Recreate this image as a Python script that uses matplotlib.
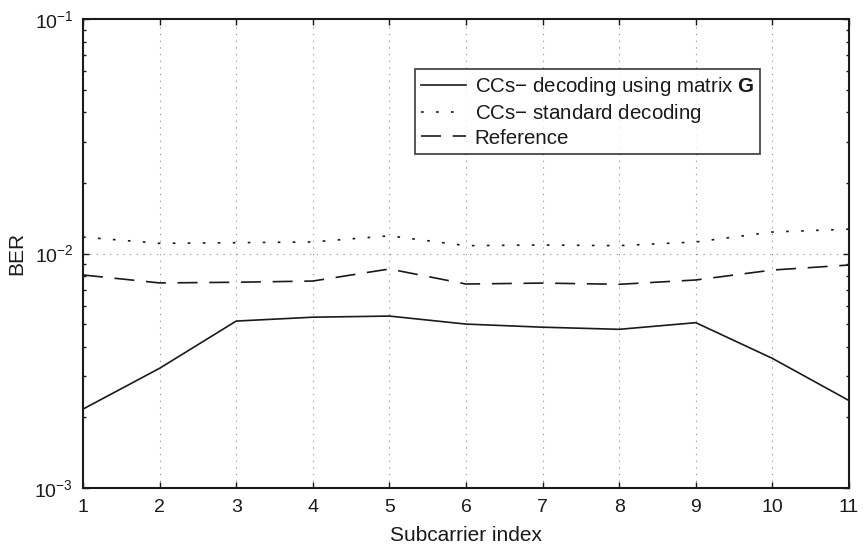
import matplotlib
matplotlib.use("Agg")
import matplotlib.pyplot as plt
from matplotlib.ticker import LogLocator, NullFormatter

plt.rcParams['font.family'] = ['Liberation Sans', 'DejaVu Sans']
plt.rcParams['mathtext.fontset'] = 'custom'
plt.rcParams['mathtext.rm'] = 'Liberation Sans'
plt.rcParams['mathtext.bf'] = 'Liberation Sans:bold'
plt.rcParams['mathtext.it'] = 'Liberation Sans:italic'

subcarriers = [1, 2, 3, 4, 5, 6, 7, 8, 9, 10, 11]
ber_matrix_g = [2.17e-3, 3.24e-3, 5.15e-3, 5.35e-3, 5.41e-3, 5.0e-3, 4.85e-3, 4.75e-3, 5.07e-3, 3.57e-3, 2.36e-3]
ber_standard = [1.175e-2, 1.105e-2, 1.112e-2, 1.12e-2, 1.19e-2, 1.08e-2, 1.087e-2, 1.08e-2, 1.12e-2, 1.235e-2, 1.27e-2]
ber_reference = [8.1e-3, 7.49e-3, 7.54e-3, 7.63e-3, 8.59e-3, 7.41e-3, 7.48e-3, 7.39e-3, 7.71e-3, 8.5e-3, 8.93e-3]
labels = [r"CCs$-$ decoding using matrix $\mathbf{G}$", r"CCs$-$ standard decoding", "Reference"]

fig = plt.figure(figsize=(8.64, 5.51), dpi=100)
ax = fig.add_axes([83/864, 1-488/551, (849-83)/864, (488-19)/551])

lw = 1.2
ax.plot(subcarriers, ber_matrix_g, color='#1a1a1a', lw=lw, linestyle='-', label=labels[0])
ax.plot(subcarriers, ber_standard, color='#1a1a1a', lw=lw, linestyle=(0, (1.6, 7.4)), label=labels[1])
ax.plot(subcarriers, ber_reference, color='#1a1a1a', lw=lw, linestyle=(0, (12, 7)), label=labels[2])

ax.set_yscale('log')
ax.set_xlim(1, 11)
ax.set_ylim(1e-3, 1e-1)
ax.set_xticks(subcarriers)
ax.yaxis.set_major_locator(LogLocator(base=10, numticks=10))
ax.yaxis.set_minor_locator(LogLocator(base=10, subs=range(2, 10), numticks=20))
ax.yaxis.set_minor_formatter(NullFormatter())

ax.grid(True, which='major', color='#8a8a8a', linestyle=(0, (1, 5)), lw=0.8)
ax.tick_params(which='both', direction='in', top=True, right=True, labelsize=14, colors='#1a1a1a')
ax.tick_params(which='major', length=4.5, width=1)
ax.tick_params(which='minor', length=2.5, width=1)
ax.tick_params(axis='x', pad=8)
ax.tick_params(axis='y', pad=7)
for s in ax.spines.values():
    s.set_linewidth(1.5)
    s.set_color('#1a1a1a')

ax.set_xlabel('Subcarrier index', fontsize=15, color='#1a1a1a', labelpad=7)
ax.set_ylabel('BER', fontsize=15, color='#1a1a1a', labelpad=6)

leg = ax.legend(loc='upper left', bbox_to_anchor=((415-83)/766, (488-69)/469), borderaxespad=0,
                fontsize=14.8, handlelength=2.2, handletextpad=0.4, labelspacing=0.18,
                fancybox=False, frameon=True, borderpad=0.3)
leg.get_frame().set_edgecolor('#1a1a1a')
leg.get_frame().set_linewidth(1.3)
for t in leg.get_texts():
    t.set_color('#1a1a1a')

fig.savefig('out.png', dpi=100)
